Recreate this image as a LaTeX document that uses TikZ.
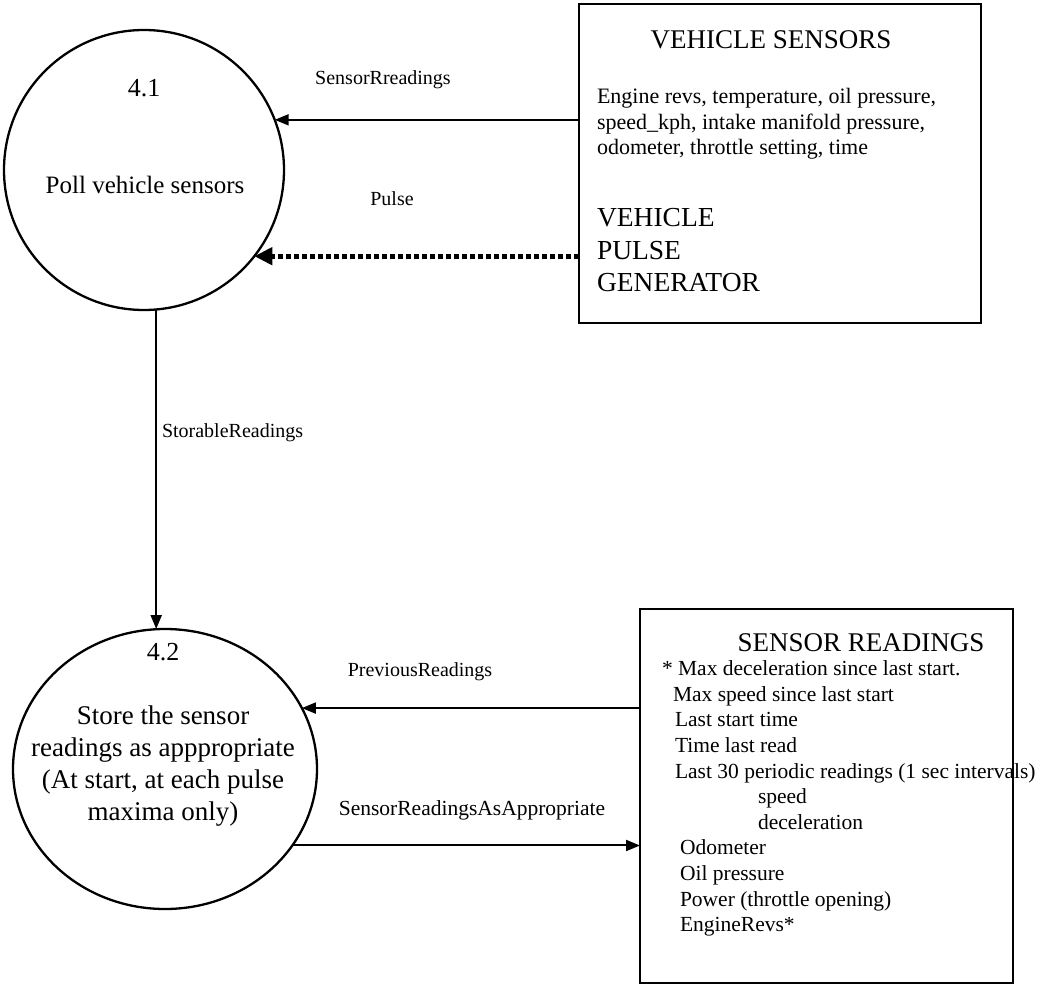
\documentclass[tikz,border=0pt]{standalone}
\usepackage{fontspec}
\setmainfont{Liberation Serif}
\usetikzlibrary{arrows.meta,shapes.geometric}
\begin{document}
\begin{tikzpicture}[x=1pt,y=-1pt,
  every node/.style={inner sep=0pt, outer sep=0pt},
  bubble/.style={draw, line width=2.3pt, circle},
  oval/.style={draw, line width=2.3pt, ellipse},
  entity/.style={draw, line width=2.3pt, rectangle},
  flow/.style={line width=2pt, -{Triangle[length=14pt,width=11pt]}},
  pulseflow/.style={line width=5pt, dash pattern=on 5pt off 3pt, -{Triangle[length=18pt,width=17pt]}},
  lbl/.style={font=\fontsize{20}{24}\selectfont},
  ptext/.style={font=\fontsize{26}{32}\selectfont, align=center},
  title/.style={font=\fontsize{27}{32}\selectfont},
  small/.style={font=\fontsize{22}{25.5}\selectfont, align=left, anchor=west},
  big/.style={font=\fontsize{27.5}{32.5}\selectfont, align=left, anchor=west},
  entry/.style={font=\fontsize{21.5}{25}\selectfont, anchor=mid west}
]
\useasboundingbox (0,0) rectangle (1047,987);

% processes
\node[bubble, minimum size=280pt] (c1) at (144,170) {};
\node[oval, minimum width=304pt, minimum height=280pt] (c2) at (165,769) {};

% external entity and data store
\node[entity, minimum width=402pt, minimum height=319pt] (b1) at (780,163.5) {};
\node[entity, minimum width=373pt, minimum height=374pt] (b2) at (826.5,796) {};

% process texts
\node[ptext] (n41) at (144,88) {4.1};
\node[ptext, font=\fontsize{25}{30}\selectfont] (p41) at (145,185) {Poll vehicle sensors};
\node[ptext] (n42) at (163,652) {4.2};
\node[ptext, font=\fontsize{27}{32}\selectfont] (p42) at (163,766)
  {Store the sensor\\readings as apppropriate\\(At start, at each pulse\\maxima only)};

% vehicle sensors box
\node[title] (t1) at (771,40) {VEHICLE SENSORS};
\node[small] (s1) at (597,124) {Engine revs, temperature, oil pressure,\\speed\_kph, intake manifold pressure,\\odometer, throttle setting, time};
\node[big] (g1) at (597,250.5) {VEHICLE\\PULSE\\GENERATOR};

% sensor readings store
\node[title] (t2) at (861,643) {SENSOR READINGS};
\node[entry] (e1) at (662,673.5) {* Max deceleration since last start.};
\node[entry] (e2) at (673,699) {Max speed since last start};
\node[entry] (e3) at (675,724.5) {Last start time};
\node[entry] (e4) at (675,750) {Time last read};
\node[entry] (e5) at (675,776) {Last 30 periodic readings (1 sec intervals)};
\node[entry] (e6) at (758,801.5) {speed};
\node[entry] (e7) at (758,827) {deceleration};
\node[entry] (e8) at (680,852.5) {Odometer};
\node[entry] (e9) at (680,878) {Oil pressure};
\node[entry] (e10) at (680,904) {Power (throttle opening)};
\node[entry] (e11) at (680,929.5) {EngineRevs*};

% flows
\draw[flow] (b1.west |- c1.21.8) -- (c1.21.8);
\draw[pulseflow] (b1.west |- c1.-38.4) -- (c1.-38.4);
\draw[flow] (c1.-85.5) -- (c1.-85.5 |- c2.north);
\draw[flow] (b2.west |- c2.24) -- (c2.24);
\draw[flow] (c2.-31.7) -- (b2.west |- c2.-31.7);

% flow labels
\node[lbl] (lsr) at (383,80) {SensorRreadings};
\node[lbl] (lpu) at (392,199) {Pulse};
\node[lbl, anchor=west] (lst) at (162,433) {StorableReadings};
\node[lbl] (lpr) at (420,672) {PreviousReadings};
\node[lbl, font=\fontsize{21.5}{24}\selectfont] (lsa) at (472,810) {SensorReadingsAsAppropriate};
\end{tikzpicture}
\end{document}
